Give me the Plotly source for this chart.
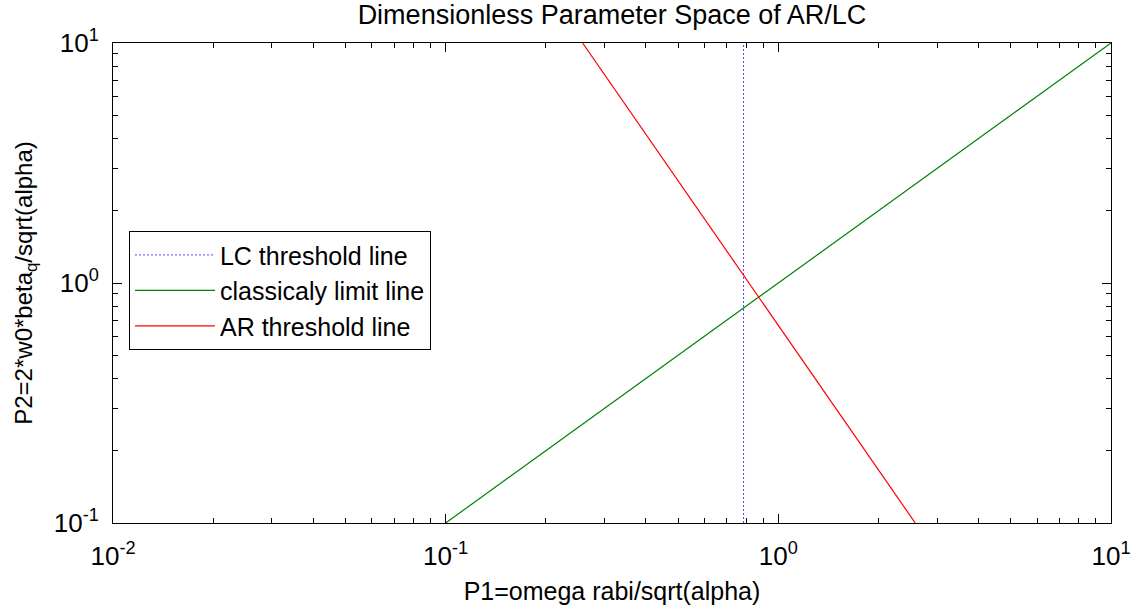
import plotly.graph_objects as go

# ---- data ----
lc_p1 = [0.786, 0.786]
lc_p2 = [0.1, 10.0]
cl_p1 = [0.1, 10.0]
cl_p2 = [0.1, 10.0]
ar_p1 = [0.258, 2.58]
ar_p2 = [10.0, 0.1]

x_tickvals = [0.01, 0.1, 1, 10]
x_ticktext = ["10<sup>-2</sup>", "10<sup>-1</sup>", "10<sup>0</sup>", "10<sup>1</sup>"]
y_tickvals = [0.1, 1, 10]
y_ticktext = ["10<sup>-1</sup>", "10<sup>0</sup>", "10<sup>1</sup>"]
minor_mults = [2, 3, 4, 5, 6, 7, 8, 9]

x_minor = [m * d for d in x_tickvals[:-1] for m in minor_mults]
y_minor = [m * d for d in y_tickvals[:-1] for m in minor_mults]

FONT = "Liberation Sans, Arial, Helvetica, sans-serif"
FS = 26

fig = go.Figure()
fig.add_trace(go.Scatter(x=lc_p1, y=lc_p2, mode="lines", name="LC threshold line",
                         line=dict(color="rgb(70,70,255)", width=1, dash="2px,2px")))
fig.add_trace(go.Scatter(x=cl_p1, y=cl_p2, mode="lines", name="classicaly limit line",
                         line=dict(color="rgb(0,128,0)", width=1.2)))
fig.add_trace(go.Scatter(x=ar_p1, y=ar_p2, mode="lines", name="AR threshold line",
                         line=dict(color="rgb(255,0,0)", width=1.2)))

axis_common = dict(
    type="log", showgrid=False, zeroline=False,
    showline=True, linecolor="black", linewidth=1, mirror="allticks",
    ticks="inside", ticklen=9, tickwidth=1, tickcolor="black",
    tickfont=dict(family=FONT, size=FS, color="black"),
)

fig.update_xaxes(range=[-2, 1], tickvals=x_tickvals, ticktext=x_ticktext,
                 minor=dict(ticks="inside", ticklen=5, tickwidth=1, tickcolor="black",
                            showgrid=False, tickvals=x_minor),
                 title=dict(text="P1=omega rabi/sqrt(alpha)",
                            font=dict(family=FONT, size=25, color="black"), standoff=12),
                 ticklabelstandoff=10, **axis_common)
fig.update_yaxes(range=[-1, 1], tickvals=y_tickvals, ticktext=y_ticktext,
                 minor=dict(ticks="inside", ticklen=5, tickwidth=1, tickcolor="black",
                            showgrid=False, tickvals=y_minor),
                 title=dict(text="P2=2*w0*beta<sub>q</sub>/sqrt(alpha)",
                            font=dict(family=FONT, size=24, color="black"), standoff=14),
                 ticklabelstandoff=8, **axis_common)

fig.update_layout(
    width=1144, height=612,
    margin=dict(l=113, r=33, t=43, b=89),
    paper_bgcolor="white", plot_bgcolor="white",
    title=dict(text="Dimensionless Parameter Space of AR/LC", x=0.5, xanchor="center",
               y=0.977, yanchor="middle", xref="paper",
               font=dict(family=FONT, size=27, color="black")),
    font=dict(family=FONT, size=FS, color="black"),
    legend=dict(x=0.016, y=0.608, xanchor="left", yanchor="top",
                bgcolor="white", bordercolor="black", borderwidth=1,
                font=dict(family=FONT, size=25, color="black"),
                itemwidth=80, tracegroupgap=0),
    showlegend=True,
)

fig.write_html("out.html")
